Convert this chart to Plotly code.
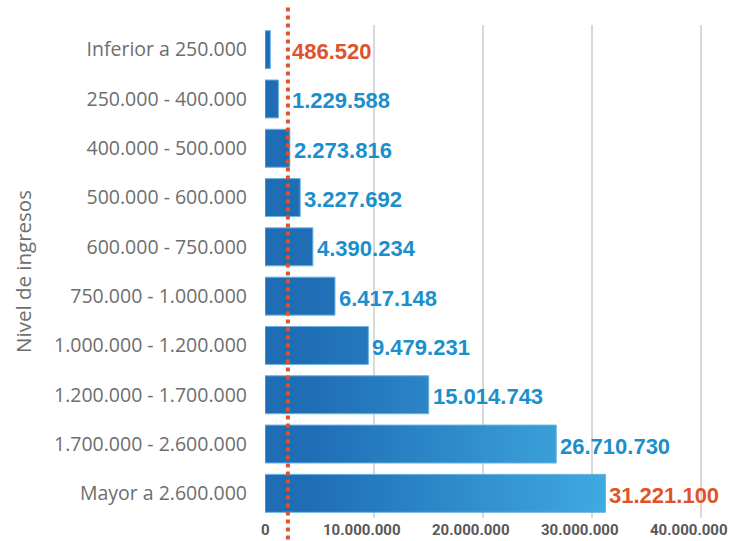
import plotly.graph_objects as go

# Datos
categorias = ["Inferior a 250.000", "250.000 - 400.000", "400.000 - 500.000",
              "500.000 - 600.000", "600.000 - 750.000", "750.000 - 1.000.000",
              "1.000.000 - 1.200.000", "1.200.000 - 1.700.000",
              "1.700.000 - 2.600.000", "Mayor a 2.600.000"]
valores = [486520, 1229588, 2273816, 3227692, 4390234, 6417148,
           9479231, 15014743, 26710730, 31221100]
etiquetas = ["486.520", "1.229.588", "2.273.816", "3.227.692", "4.390.234",
             "6.417.148", "9.479.231", "15.014.743", "26.710.730", "31.221.100"]
umbral = 2100000
ticks_x = [0, 10000000, 20000000, 30000000, 40000000]
ticks_x_txt = ["0", "10.000.000", "20.000.000", "30.000.000", "40.000.000"]

AZUL = "#1b8fcb"
NARANJA = "#e0532a"
GRIS = "#6e6e6e"
half = 0.385

fig = go.Figure()

# barras con degradado (scatter relleno, uno por barra)
for i, v in enumerate(valores):
    fig.add_trace(go.Scatter(
        x=[0, v, v, 0, 0],
        y=[i - half, i - half, i + half, i + half, i - half],
        mode="lines", fill="toself",
        line=dict(color="#6ab4e2", width=1),
        fillgradient=dict(type="horizontal",
                          colorscale=[[0, "#1f6db5"], [1, "#3fa9e0"]],
                          start=4000000, stop=31000000),
        hoverinfo="skip", showlegend=False,
    ))

# etiquetas de valor (a la derecha de la barra o de la línea de referencia)
colores_txt = [NARANJA] + [AZUL] * (len(valores) - 2) + [NARANJA]
for i, (v, txt) in enumerate(zip(valores, etiquetas)):
    fig.add_annotation(x=max(v, umbral), y=i, text=txt, showarrow=False,
                       xanchor="left", yanchor="middle", xshift=2, yshift=-2,
                       font=dict(family="Liberation Sans", size=22,
                                 color=colores_txt[i], weight="bold"))

# etiquetas del eje x (alineadas como en el original)
for t, txt in zip(ticks_x, ticks_x_txt):
    fig.add_annotation(x=t, y=0, xref="x", yref="paper", text=txt,
                       showarrow=False, yanchor="top", yshift=-2,
                       xanchor="right" if t else "center",
                       xshift=28 if t else 0, borderpad=0,
                       font=dict(family="Roboto", size=15, color="#585858",
                                 weight="bold"))

# línea de referencia
fig.add_shape(type="line", xref="x", yref="paper",
              x0=umbral, x1=umbral, y0=-0.06, y1=1.036,
              line=dict(color=NARANJA, width=4, dash="4px,4px"))

fig.update_layout(
    width=730, height=541,
    margin=dict(l=265, r=7, t=25, b=23),
    paper_bgcolor="white", plot_bgcolor="white",
    xaxis=dict(range=[0, 42000000], tickvals=ticks_x, showticklabels=False,
               showgrid=True, gridcolor="#d9d9d9", gridwidth=2,
               zeroline=False, showline=False, ticks="", automargin=False),
    yaxis=dict(range=[9.5, -0.5], tickvals=list(range(len(categorias))),
               ticktext=categorias, showgrid=False, zeroline=False,
               showline=False, ticks="", ticklabelstandoff=17,
               automargin=False,
               tickfont=dict(family="Open Sans", size=19.5, color=GRIS),
               title=dict(text="Nivel de ingresos", standoff=16,
                          font=dict(family="Open Sans", size=20.5, color=GRIS))),
)

# sin margen en el body ni barras de desplazamiento, sin barra de herramientas
fig.write_html("out.html", config={"displayModeBar": False},
               post_script="document.body.style.margin='0';"
                           "document.body.style.overflow='hidden';")
